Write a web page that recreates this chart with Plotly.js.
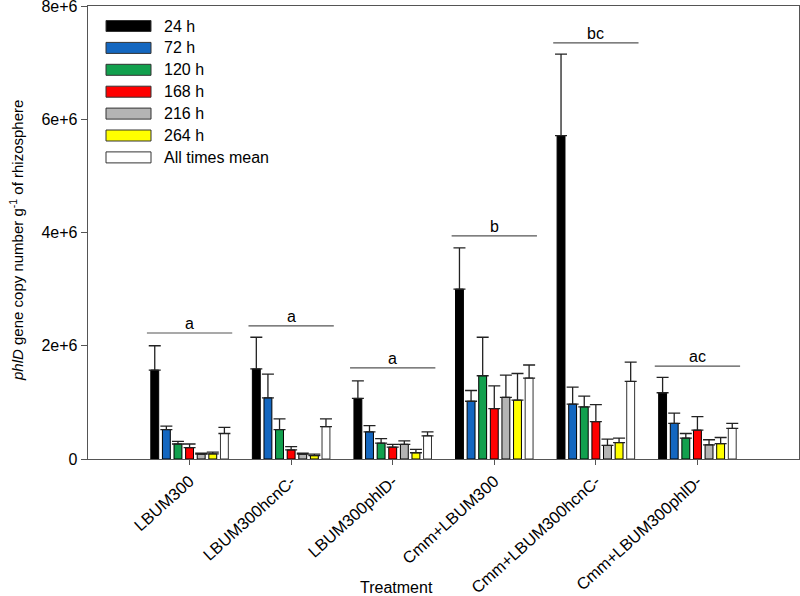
<!DOCTYPE html>
<html>
<head>
<meta charset="utf-8">
<script src="https://cdn.plot.ly/plotly-3.0.1.min.js"></script>
<style>html,body{margin:0;padding:0;background:#fff}#chart{width:800px;height:596px}</style>
</head>
<body>
<div id="chart"></div>
<script>
// Treatments (x categories)
const categories = ["LBUM300", "LBUM300hcnC-", "LBUM300phlD-", "Cmm+LBUM300", "Cmm+LBUM300hcnC-", "Cmm+LBUM300phlD-"];
// Series names
const seriesNames = ["24 h", "72 h", "120 h", "168 h", "216 h", "264 h", "All times mean"];
const seriesColors = ["#000000", "#1467c0", "#12a04e", "#ff0000", "#b4b4b4", "#ffff00", "#ffffff"];
// Means per series (one value per treatment)
const v24  = [1570000, 1590000, 1070000, 3000000, 5710000, 1170000];
const v72  = [520000, 1080000, 480000, 1020000, 970000, 630000];
const v120 = [265000, 520000, 280000, 1470000, 920000, 370000];
const v168 = [200000, 160000, 210000, 890000, 660000, 510000];
const v216 = [85000, 85000, 260000, 1090000, 240000, 250000];
const v264 = [90000, 60000, 110000, 1040000, 290000, 270000];
const vMean = [450000, 570000, 410000, 1430000, 1370000, 540000];
// Upper error (SE) per series
const e24  = [430000, 560000, 310000, 730000, 1440000, 270000];
const e72  = [60000, 420000, 110000, 190000, 300000, 180000];
const e120 = [45000, 190000, 80000, 680000, 190000, 80000];
const e168 = [65000, 60000, 50000, 400000, 300000, 240000];
const e216 = [20000, 20000, 60000, 390000, 110000, 90000];
const e264 = [30000, 25000, 60000, 470000, 80000, 110000];
const eMean = [110000, 140000, 70000, 230000, 340000, 90000];
// Significance letters and their bar heights
const sigLetters = ["a", "a", "a", "b", "bc", "ac"];
const sigHeights = [2225000, 2350000, 1610000, 3940000, 7350000, 1640000];
// Y tick labels
const yTickVals = [0, 2000000, 4000000, 6000000, 8000000];
const yTickText = ["0", "2e+6", "4e+6", "6e+6", "8e+6"];

const values = [v24, v72, v120, v168, v216, v264, vMean];
const errors = [e24, e72, e120, e168, e216, e264, eMean];
const xIdx = categories.map((c, i) => i);

const traces = values.map((vals, s) => ({
  type: "bar",
  name: seriesNames[s],
  x: xIdx,
  y: vals,
  marker: {color: seriesColors[s], line: {color: s === 6 ? "#333333" : "#000000", width: 1}},
  error_y: {type: "data", symmetric: false, array: errors[s], arrayminus: vals.map(() => 0),
            color: "#222222", thickness: 1.3, width: 6},
  showlegend: false,
  hoverinfo: "x+y"
}));

const shapes = [];
const annotations = [];
sigLetters.forEach((L, i) => {
  shapes.push({type: "line", xref: "x", yref: "y", x0: i - 0.42, x1: i + 0.42,
               y0: sigHeights[i], y1: sigHeights[i], line: {color: "#555555", width: 1.2}});
  annotations.push({xref: "x", yref: "y", x: i, y: sigHeights[i], text: L, showarrow: false,
                    yanchor: "bottom", yshift: -1, font: {size: 16, color: "#000"}});
});

// Custom legend (wide patches)
const legTop = 26, legStep = 21.9, plotTop = 6, plotH = 453, plotL = 88, plotW = 711;
seriesNames.forEach((n, s) => {
  const yc = legTop + s * legStep;
  const yp0 = 1 - (yc - 5.5 - plotTop) / plotH, yp1 = 1 - (yc + 5.5 - plotTop) / plotH;
  shapes.push({type: "rect", xref: "paper", yref: "paper",
               x0: (106 - plotL) / plotW, x1: (151 - plotL) / plotW, y0: yp1, y1: yp0,
               fillcolor: seriesColors[s], line: {color: "#333333", width: 1}});
  annotations.push({xref: "paper", yref: "paper", x: (162 - plotL) / plotW, y: 1 - (yc - plotTop) / plotH,
                    xanchor: "left", yanchor: "middle", text: n, showarrow: false,
                    font: {size: 16, color: "#000"}});
});

// Axis titles as annotations
annotations.push({xref: "paper", yref: "paper", x: (396 - plotL) / plotW, y: 0, yshift: -128,
                  xanchor: "center", yanchor: "middle", text: "Treatment", showarrow: false,
                  font: {size: 16, color: "#000"}});
annotations.push({xref: "paper", yref: "paper", x: 0, xshift: -72, y: 1 - (241 - plotTop) / plotH,
                  xanchor: "center", yanchor: "middle", textangle: -90,
                  text: "<i>phlD</i> gene copy number g<sup>-1</sup> of rhizosphere", showarrow: false,
                  font: {size: 15, color: "#000"}});

const layout = {
  width: 800, height: 596,
  margin: {l: 88, r: 1, t: 6, b: 137},
  paper_bgcolor: "#ffffff", plot_bgcolor: "#ffffff",
  font: {family: "Liberation Sans, Arial, sans-serif", size: 16, color: "#000"},
  barmode: "group", bargap: 0.2, bargroupgap: 0.32,
  showlegend: false,
  xaxis: {
    range: [-1, 6], tickvals: xIdx, ticktext: categories, tickangle: -42,
    showgrid: false, zeroline: false, showline: true, linecolor: "#555555", linewidth: 1.3,
    mirror: true, ticks: "outside", ticklen: 5, tickcolor: "#555555",
    tickfont: {size: 16.5, color: "#000"}
  },
  yaxis: {
    range: [0, 8000000], tickvals: yTickVals, ticktext: yTickText,
    showgrid: false, zeroline: false, showline: true, linecolor: "#555555", linewidth: 1.3,
    mirror: true, ticks: "outside", ticklen: 6, tickcolor: "#555555",
    ticklabeloverflow: "allow",
    tickfont: {size: 16, color: "#000"}
  },
  shapes: shapes,
  annotations: annotations
};

Plotly.newPlot("chart", traces, layout, {displayModeBar: false, staticPlot: true});
</script>
</body>
</html>
